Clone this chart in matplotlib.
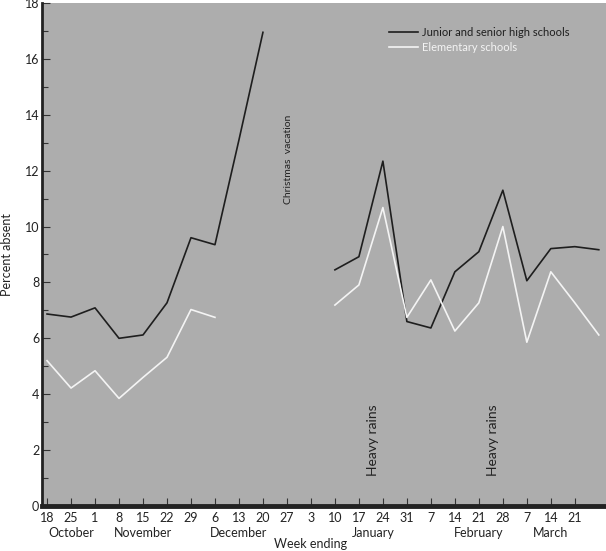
import numpy as np
import matplotlib
matplotlib.use("Agg")
import matplotlib.pyplot as plt

nan = np.nan

# weeks ending, 18 Oct .. 28 Mar
week_labels = ['18', '25', '1', '8', '15', '22', '29', '6', '13', '20', '27', '3',
               '10', '17', '24', '31', '7', '14', '21', '28', '7', '14', '21']
months = ['October', 'November', 'December', 'January', 'February', 'March']
month_pos = [1.0, 4.0, 8.0, 13.6, 18.0, 21.0]

high_schools = [6.87, 6.76, 7.09, 6.0, 6.12, 7.27, 9.6, 9.35, 13.1, 16.95, nan, nan,
                8.45, 8.92, 12.34, 6.6, 6.37, 8.38, 9.1, 11.3, 8.06, 9.21, 9.28, 9.17]
elementary = [5.2, 4.22, 4.84, 3.85, 4.6, 5.32, 7.03, 6.75, nan, nan, nan, nan,
              7.19, 7.91, 10.68, 6.75, 8.09, 6.26, 7.27, 10.0, 5.86, 8.38, 7.27, 6.12]

x = np.arange(len(high_schools))

plt.rcParams['font.family'] = ['Lato', 'DejaVu Sans']

fig = plt.figure(figsize=(6.06, 5.51), dpi=100)
ax = fig.add_axes([0.0693, 0.0817, 0.9307, 0.9129])
ax.set_facecolor('#adadad')

ax.plot(x, high_schools, color='#1e1e1e', lw=1.2, label='Junior and senior high schools')
ax.plot(x, elementary, color='#f4f4f4', lw=1.2, label='Elementary schools')

ax.set_xlim(-0.21, 23.3)
ax.set_ylim(0, 18)

# axes look
for s in ['top', 'right']:
    ax.spines[s].set_visible(False)
ax.spines['left'].set_linewidth(2)
ax.spines['left'].set_color('#222222')
ax.spines['bottom'].set_linewidth(3.5)
ax.spines['bottom'].set_color('#222222')

ax.set_yticks(np.arange(0, 19, 2))
ax.set_yticks(np.arange(0, 19, 1), minor=True)
ax.set_xticks(np.arange(len(week_labels)))
ax.set_xticklabels(week_labels)
ax.tick_params(axis='both', direction='in', length=6, width=0.8, color='#333333',
               labelsize=9, labelcolor='#222222')
ax.tick_params(axis='y', which='minor', direction='in', length=4, width=0.8, color='#333333')
ax.tick_params(axis='x', pad=4)
ax.tick_params(axis='y', pad=2)

# month names under week numbers
for m, p in zip(months, month_pos):
    ax.text(p, -0.98, m, ha='center', va='center', fontsize=9, color='#222222')

ax.text(11.0, -1.35, 'Week ending', ha='center', va='center',
        fontsize=9, color='#222222')
ax.set_ylabel('Percent absent', fontsize=9, color='#222222', labelpad=8)

# annotations
ax.text(10.05, 12.4, 'Christmas  vacation', rotation=90, ha='center', va='center',
        fontsize=7.5, color='#222222')
ax.text(13.6, 2.35, 'Heavy rains', rotation=90, ha='center', va='center',
        fontsize=10, color='#222222')
ax.text(18.6, 2.35, 'Heavy rains', rotation=90, ha='center', va='center',
        fontsize=10, color='#222222')

leg = ax.legend(loc='upper left', bbox_to_anchor=(0.615, 0.952), frameon=False,
                fontsize=8, handlelength=2.6, handletextpad=0.4,
                labelspacing=0.35, borderaxespad=0, borderpad=0)
leg.get_texts()[0].set_color('#1e1e1e')
leg.get_texts()[1].set_color('#f4f4f4')

fig.savefig('out.png', dpi=100)
